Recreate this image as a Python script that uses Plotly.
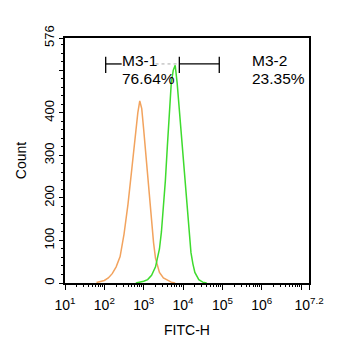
import plotly.graph_objects as go
import numpy as np

# log10(FITC-H) positions and counts
orange_x = [1.8, 1.9, 2.0, 2.1, 2.2, 2.3, 2.4, 2.5, 2.6, 2.7, 2.8, 2.85, 2.9, 2.95,
            3.0, 3.05, 3.1, 3.15, 3.2, 3.25, 3.3, 3.4, 3.5, 3.6, 3.7, 3.8]
orange_y = [1, 3, 6, 12, 22, 38, 62, 115, 185, 270, 365, 400, 428, 410,
            360, 305, 245, 195, 140, 95, 58, 25, 12, 6, 2, 0]

green_x = [2.8, 2.9, 3.0, 3.1, 3.2, 3.3, 3.4, 3.45, 3.5, 3.55, 3.6, 3.65, 3.7, 3.75,
           3.8, 3.85, 3.9, 3.95, 4.0, 4.05, 4.1, 4.15, 4.2, 4.25, 4.3, 4.4, 4.5, 4.6]
green_y = [0, 2, 4, 8, 18, 38, 80, 120, 175, 240, 320, 410, 470, 500,
           512, 470, 410, 360, 305, 240, 175, 115, 72, 45, 25, 8, 2, 0]

# gates (log10 units)
gate1 = [2.034, 3.905]
gate2 = [3.905, 4.92]
gate_y = 515
gate_cap = [494, 532]
gate1_label = ["M3-1", "76.64%"]
gate2_label = ["M3-2", "23.35%"]

x_tickvals = [1, 2, 3, 4, 5, 6, 7, 7.2]
x_ticktext = ["10<sup>1</sup>", "10<sup>2</sup>", "10<sup>3</sup>", "10<sup>4</sup>",
              "10<sup>5</sup>", "10<sup>6</sup>", "", "10<sup>7.2</sup>"]
y_tickvals = [0, 100, 200, 300, 400, 500, 576]
y_ticktext = ["0", "100", "200", "300", "400", "", "576"]

minor_x = [d + np.log10(k) for d in range(1, 7) for k in range(2, 10)]

FONT = "Liberation Sans, Arial, sans-serif"

fig = go.Figure()
fig.add_trace(go.Scatter(x=orange_x, y=orange_y, mode="lines",
                         line=dict(color="#F2A35E", width=1.5), hoverinfo="skip"))
fig.add_trace(go.Scatter(x=green_x, y=green_y, mode="lines",
                         line=dict(color="#3EDB2E", width=1.5), hoverinfo="skip"))

# gate M3-1: solid left part, then dotted gray after text
fig.add_trace(go.Scatter(x=[gate1[0], 2.44], y=[gate_y, gate_y], mode="lines",
                         line=dict(color="black", width=1.3), hoverinfo="skip"))
fig.add_trace(go.Scatter(x=[3.3, gate1[1]], y=[gate_y, gate_y], mode="lines",
                         line=dict(color="#AAAAAA", width=1, dash="dot"), hoverinfo="skip"))
fig.add_trace(go.Scatter(x=gate2, y=[gate_y, gate_y], mode="lines",
                         line=dict(color="black", width=1.3), hoverinfo="skip"))
for xc in [gate1[0], gate1[1], gate2[1]]:
    fig.add_trace(go.Scatter(x=[xc, xc], y=gate_cap, mode="lines",
                             line=dict(color="black", width=1.3), hoverinfo="skip"))

for xpos, labels in [(2.44, gate1_label), (5.74, gate2_label)]:
    fig.add_annotation(x=xpos, y=522, text=labels[0], showarrow=False,
                       xanchor="left", yanchor="middle", xshift=-2,
                       font=dict(size=15.5, color="black", family=FONT))
    fig.add_annotation(x=xpos, y=480, text=labels[1], showarrow=False,
                       xanchor="left", yanchor="middle", xshift=-2,
                       font=dict(size=15.5, color="black", family=FONT))

fig.update_layout(
    width=338, height=350,
    margin=dict(l=65, r=29, t=38, b=67),
    plot_bgcolor="white", paper_bgcolor="white",
    showlegend=False,
    font=dict(family=FONT, color="black", size=13),
)
fig.update_xaxes(
    range=[1, 7.2], tickmode="array", tickvals=x_tickvals, ticktext=x_ticktext,
    ticks="outside", ticklen=5, tickwidth=1.2, tickcolor="black",
    showline=True, linecolor="black", linewidth=1.5, mirror=True,
    showgrid=False, zeroline=False,
    tickfont=dict(size=14), ticklabelstandoff=3,
    minor=dict(tickmode="array", tickvals=minor_x, ticks="outside", ticklen=2.5,
               tickcolor="black", showgrid=False),
    title=dict(text="FITC-H", font=dict(size=14), standoff=14),
)
fig.update_yaxes(
    range=[0, 576], tickmode="array", tickvals=y_tickvals, ticktext=y_ticktext,
    ticks="outside", ticklen=4, tickwidth=1.2, tickcolor="black", tickangle=-90,
    showline=True, linecolor="black", linewidth=1.5, mirror=True,
    showgrid=False, zeroline=False,
    tickfont=dict(size=13),
    minor=dict(dtick=20, tick0=0, ticks="outside", ticklen=2, tickcolor="black", showgrid=False),
    title=dict(text="Count", font=dict(size=14), standoff=12),
)

fig.write_html("out.html")
